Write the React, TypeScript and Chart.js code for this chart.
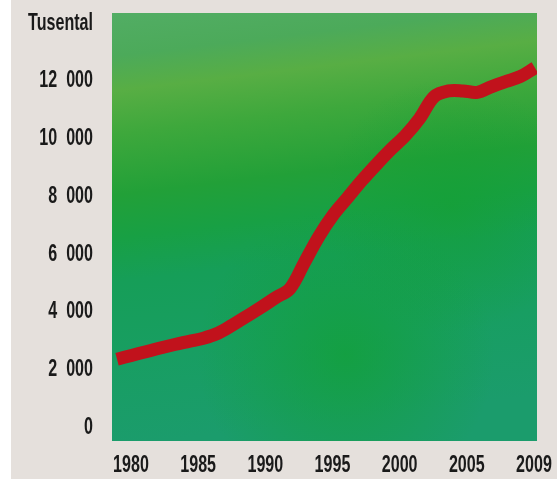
import React, { useEffect, useRef } from "react";
import { Chart, registerables } from "chart.js";

Chart.register(...registerables);

const years = [
  1980, 1981, 1982, 1983, 1984, 1985, 1986, 1987, 1988, 1989,
  1990, 1991, 1992, 1993, 1994, 1995, 1996, 1997, 1998, 1999,
  2000, 2001, 2002, 2003, 2004, 2005, 2006, 2007, 2008, 2009,
];
const values = [
  2350, 2480, 2610, 2740, 2860, 2970, 3080, 3250, 3530, 3840,
  4150, 4480, 4800, 5700, 6600, 7350, 7950, 8550, 9100, 9620,
  10100, 10700, 11450, 11650, 11650, 11600, 11800, 11980, 12150, 12450,
];
const xTickLabels = ["1980", "1985", "1990", "1995", "2000", "2005", "2009"];
const yTickValues = [0, 2000, 4000, 6000, 8000, 10000, 12000, 14000];
const yTopLabel = "Tusental";

const FONT_FAMILY = "'Liberation Sans', Arial, sans-serif";
const LABEL_CONDENSE = 0.67;

const bgPlugin = {
  id: "texturedBg",
  beforeDraw(chart: any) {
    const { ctx, chartArea: a } = chart;
    if (!a) return;
    const w = a.right - a.left;
    const h = a.bottom - a.top;
    ctx.save();
    const g = ctx.createLinearGradient(a.left, a.top, a.left + w * 0.12, a.bottom);
    g.addColorStop(0, "#52ad64");
    g.addColorStop(0.1, "#4caa5a");
    g.addColorStop(0.18, "#58ae44");
    g.addColorStop(0.28, "#3ea83c");
    g.addColorStop(0.42, "#22a038");
    g.addColorStop(0.52, "#18a044");
    g.addColorStop(0.62, "#169e58");
    g.addColorStop(0.8, "#189e62");
    g.addColorStop(1, "#1b9c6c");
    ctx.fillStyle = g;
    ctx.fillRect(a.left, a.top, w, h);

    const r = ctx.createRadialGradient(
      a.left + w * 0.55, a.bottom - h * 0.2, 0,
      a.left + w * 0.55, a.bottom - h * 0.2, w * 0.35
    );
    r.addColorStop(0, "rgba(18,160,55,0.75)");
    r.addColorStop(1, "rgba(18,160,55,0)");
    ctx.fillStyle = r;
    ctx.fillRect(a.left, a.top, w, h);

    const r2 = ctx.createRadialGradient(
      a.left + w * 0.8, a.top + h * 0.45, 0,
      a.left + w * 0.8, a.top + h * 0.45, w * 0.3
    );
    r2.addColorStop(0, "rgba(20,160,50,0.6)");
    r2.addColorStop(1, "rgba(20,160,50,0)");
    ctx.fillStyle = r2;
    ctx.fillRect(a.left, a.top, w, h);
    ctx.restore();

    // condense the axis label text horizontally while the scales draw
    const origFill = ctx.fillText;
    (chart as any).$origFillText = origFill;
    ctx.fillText = function (text: string, x: number, y: number, maxWidth?: number) {
      this.save();
      this.translate(x, y);
      this.scale(LABEL_CONDENSE, 1);
      if (maxWidth === undefined) origFill.call(this, text, 0, 0);
      else origFill.call(this, text, 0, 0, maxWidth / LABEL_CONDENSE);
      this.restore();
    };
  },
  beforeDatasetsDraw(chart: any) {
    const orig = (chart as any).$origFillText;
    if (orig) {
      chart.ctx.fillText = orig;
      (chart as any).$origFillText = null;
    }
  },
};

function fmt(v: number): string {
  if (v === 14000) return yTopLabel;
  if (v === 0) return "0";
  return `${Math.round(v / 1000)}  000`;
}

function zeroPad(s: any) {
  s.paddingTop = 0;
  s.paddingBottom = 0;
  s.paddingLeft = 0;
  s.paddingRight = 0;
}

export default function App() {
  const ref = useRef<HTMLCanvasElement | null>(null);

  useEffect(() => {
    if (!ref.current) return;
    const chart = new Chart(ref.current, {
      type: "line",
      data: {
        datasets: [
          {
            data: years.map((y, i) => ({ x: y, y: values[i] })),
            xAxisID: "x",
            yAxisID: "y",
            borderColor: "#c1121c",
            borderWidth: 13,
            borderCapStyle: "butt",
            borderJoinStyle: "round",
            pointRadius: 0,
            pointHoverRadius: 0,
            tension: 0.35,
            fill: false,
          },
        ],
      },
      options: {
        animation: false,
        responsive: false,
        devicePixelRatio: 1,
        layout: { padding: { top: 13, right: 20, left: 0, bottom: 0 } },
        plugins: { legend: { display: false }, tooltip: { enabled: false } },
        scales: {
          x: {
            type: "linear",
            display: false,
            min: 1979.65,
            max: 2009.14,
          },
          xl: {
            type: "linear",
            position: "bottom",
            min: -0.283,
            max: 6.045,
            afterBuildTicks: (s: any) => {
              s.ticks = xTickLabels.map((_, i) => ({ value: i }));
            },
            afterFit: (s: any) => {
              s.height = 38;
              zeroPad(s);
            },
            grid: { display: false, drawTicks: false },
            border: { display: false },
            ticks: {
              autoSkip: false,
              maxRotation: 0,
              padding: 10,
              color: "#1a1a1a",
              font: { family: FONT_FAMILY, size: 24, weight: "bold" },
              callback: (v: any) => xTickLabels[Math.round(Number(v))] ?? "",
            },
          },
          y: {
            type: "linear",
            min: -485,
            max: 14350,
            afterBuildTicks: (s: any) => {
              s.ticks = yTickValues.map((v) => ({ value: v }));
            },
            afterFit: (s: any) => {
              s.width = 112;
              zeroPad(s);
            },
            grid: { display: false, drawTicks: false },
            border: { display: false },
            ticks: {
              padding: 19,
              color: "#1a1a1a",
              font: { family: FONT_FAMILY, size: 24, weight: "bold" },
              callback: (v: any) => fmt(Number(v)),
            },
          },
        },
      },
      plugins: [bgPlugin],
    } as any);
    return () => chart.destroy();
  }, []);

  return (
    <div
      style={{
        position: "fixed",
        left: 0,
        top: 0,
        width: 557,
        height: 479,
        background: "linear-gradient(to right, #ffffff 0px, #ffffff 11px, #e5e0dc 11px, #e5e0dc 100%)",
      }}
    >
      <canvas ref={ref} width={557} height={479} style={{ display: "block" }} />
    </div>
  );
}
